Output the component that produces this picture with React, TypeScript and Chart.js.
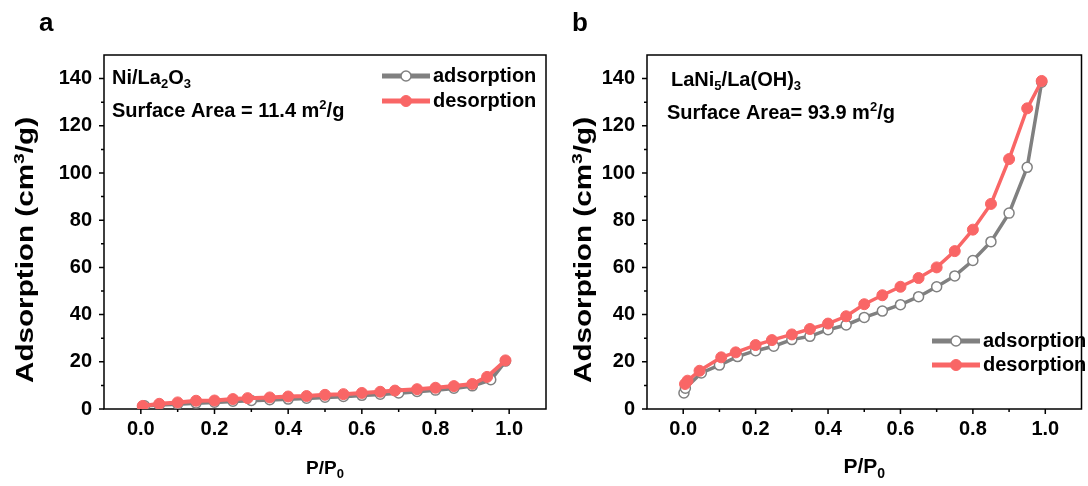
import React, { useEffect, useRef } from 'react';
import { Chart, registerables } from 'chart.js';
Chart.register(...registerables);

// ---------- data ----------
const xTickValues = [0, 0.2, 0.4, 0.6, 0.8, 1.0];
const xMinorTicks = [0.1, 0.3, 0.5, 0.7, 0.9];
const yTickValues = [0, 20, 40, 60, 80, 100, 120, 140];
const yMinorTicks = [10, 30, 50, 70, 90, 110, 130];

// panel a: Ni/La2O3
const aAdsX = [0.005, 0.01, 0.05, 0.10, 0.15, 0.20, 0.25, 0.30, 0.35, 0.40, 0.45, 0.50, 0.55, 0.60, 0.65, 0.70, 0.75, 0.80, 0.85, 0.90, 0.95, 0.99];
const aAdsY = [0.6, 1.4, 1.8, 2.1, 2.5, 2.9, 3.3, 3.6, 3.9, 4.2, 4.6, 5.0, 5.3, 5.8, 6.3, 6.8, 7.4, 8.0, 8.8, 9.8, 12.4, 20.3];
const aDesX = [0.005, 0.05, 0.10, 0.15, 0.20, 0.25, 0.29, 0.35, 0.40, 0.45, 0.50, 0.55, 0.60, 0.65, 0.69, 0.75, 0.80, 0.85, 0.90, 0.94, 0.99];
const aDesY = [1.3, 2.2, 2.8, 3.5, 3.6, 4.2, 4.6, 4.9, 5.3, 5.5, 6.0, 6.3, 6.8, 7.3, 7.8, 8.4, 9.0, 9.7, 10.6, 13.6, 20.6];

// panel b: LaNi5/La(OH)3
const bAdsX = [0.002, 0.006, 0.05, 0.10, 0.15, 0.20, 0.25, 0.30, 0.35, 0.40, 0.45, 0.50, 0.55, 0.60, 0.65, 0.70, 0.75, 0.80, 0.85, 0.90, 0.95, 0.99];
const bAdsY = [6.8, 8.8, 15.3, 18.6, 22.2, 24.7, 26.6, 29.4, 30.8, 33.6, 35.6, 38.8, 41.5, 44.2, 47.6, 51.8, 56.4, 62.9, 70.9, 83.0, 102.4, 138.5];
const bDesX = [0.005, 0.012, 0.045, 0.105, 0.145, 0.20, 0.245, 0.30, 0.35, 0.40, 0.45, 0.50, 0.55, 0.60, 0.65, 0.70, 0.75, 0.80, 0.85, 0.90, 0.95, 0.99];
const bDesY = [10.6, 12.0, 16.2, 21.9, 24.0, 27.1, 29.2, 31.6, 33.9, 36.2, 39.3, 44.4, 48.2, 51.8, 55.5, 60.0, 66.9, 76.0, 86.9, 105.9, 127.4, 139.0];

const seriesNames = ['adsorption', 'desorption'];

// ---------- styles ----------
const FONT = '"Liberation Sans", Arial, sans-serif';
const GRAY = '#808080';
const RED = '#F96666';

type Seg = { t: string; s?: 'sub' | 'sup' };

function segFont(size: number, s?: string) {
  const fs = s ? Math.round(size * 0.66) : size;
  return `bold ${fs}px ${FONT}`;
}
function richWidth(ctx: CanvasRenderingContext2D, segs: Seg[], size: number) {
  let w = 0;
  for (const g of segs) {
    ctx.font = segFont(size, g.s);
    w += ctx.measureText(g.t).width;
  }
  return w;
}
function drawRich(ctx: CanvasRenderingContext2D, segs: Seg[], x: number, y: number, size: number, align: 'left' | 'center' = 'left') {
  const w = richWidth(ctx, segs, size);
  let cx = align === 'center' ? x - w / 2 : x;
  ctx.textAlign = 'left';
  ctx.textBaseline = 'alphabetic';
  ctx.fillStyle = '#000';
  for (const g of segs) {
    ctx.font = segFont(size, g.s);
    const dy = g.s === 'sub' ? size * 0.22 : g.s === 'sup' ? -size * 0.4 : 0;
    ctx.fillText(g.t, cx, y + dy);
    cx += ctx.measureText(g.t).width;
  }
}

type PanelCfg = {
  canvasLeft: number;
  width: number;
  yAxisWidth: number;
  padRight: number;
  letter: string;
  letterX: number;
  adsX: number[]; adsY: number[]; desX: number[]; desY: number[];
  label1: Seg[]; label1X: number; label1Y: number;
  label2: Seg[]; label2X: number; label2Y: number;
  legendX: number; legendY: number; legendGap: number;
  yTitleX: number; xTitleSize: number; xTitleY: number;
  lineW: number;
};

const panels: PanelCfg[] = [
  {
    canvasLeft: 0, width: 555, yAxisWidth: 104, padRight: 9, letter: 'a', letterX: 39,
    adsX: aAdsX, adsY: aAdsY, desX: aDesX, desY: aDesY,
    label1: [{ t: 'Ni/La' }, { t: '2', s: 'sub' }, { t: 'O' }, { t: '3', s: 'sub' }], label1X: 112, label1Y: 84,
    label2: [{ t: 'Surface Area = 11.4 m' }, { t: '2', s: 'sup' }, { t: '/g' }], label2X: 112, label2Y: 117,
    legendX: 382, legendY: 76, legendGap: 25,
    yTitleX: 25, xTitleSize: 19, xTitleY: 474,
    lineW: 4,
  },
  {
    canvasLeft: 555, width: 533, yAxisWidth: 92, padRight: 1, letter: 'b', letterX: 17,
    adsX: bAdsX, adsY: bAdsY, desX: bDesX, desY: bDesY,
    label1: [{ t: 'LaNi' }, { t: '5', s: 'sub' }, { t: '/La(OH)' }, { t: '3', s: 'sub' }], label1X: 116, label1Y: 86,
    label2: [{ t: 'Surface Area= 93.9 m' }, { t: '2', s: 'sup' }, { t: '/g' }], label2X: 112, label2Y: 119,
    legendX: 377, legendY: 341, legendGap: 24,
    yTitleX: 28, xTitleSize: 21, xTitleY: 473,
    lineW: 3.5,
  },
];

function makePlugin(p: PanelCfg) {
  return {
    id: 'decor' + p.letter,
    beforeDatasetsDraw(chart: any) {
      const { ctx, chartArea: a, scales } = chart;
      const xs = scales.x, ys = scales.y;
      ctx.save();
      ctx.strokeStyle = '#000';
      ctx.lineWidth = 1.5;
      ctx.strokeRect(a.left, a.top, a.right - a.left, a.bottom - a.top);
      ctx.beginPath();
      for (const v of xTickValues) { const px = xs.getPixelForValue(v); ctx.moveTo(px, a.bottom); ctx.lineTo(px, a.bottom + 5); }
      for (const v of xMinorTicks) { const px = xs.getPixelForValue(v); ctx.moveTo(px, a.bottom); ctx.lineTo(px, a.bottom + 3); }
      for (const v of yTickValues) { const py = ys.getPixelForValue(v); ctx.moveTo(a.left, py); ctx.lineTo(a.left - 5, py); }
      for (const v of yMinorTicks) { const py = ys.getPixelForValue(v); ctx.moveTo(a.left, py); ctx.lineTo(a.left - 3, py); }
      ctx.stroke();
      ctx.restore();
    },
    afterDraw(chart: any) {
      const { ctx, chartArea: a } = chart;
      ctx.save();
      // panel letter
      ctx.fillStyle = '#000';
      ctx.font = `bold 26px ${FONT}`;
      ctx.textBaseline = 'alphabetic';
      ctx.textAlign = 'left';
      ctx.fillText(p.letter, p.letterX, 31);
      // annotations
      drawRich(ctx, p.label1, p.label1X, p.label1Y, 20);
      drawRich(ctx, p.label2, p.label2X, p.label2Y, 20);
      // axis titles
      const cx = (a.left + a.right) / 2;
      drawRich(ctx, [{ t: 'P/P' }, { t: '0', s: 'sub' }], cx, p.xTitleY, p.xTitleSize, 'center');
      const ySegs: Seg[] = [{ t: 'Adsorption (cm' }, { t: '3', s: 'sup' }, { t: '/g)' }];
      const ySize = 23;
      const yw = richWidth(ctx, ySegs, ySize);
      const stretch = 266 / yw;
      ctx.save();
      ctx.translate(p.yTitleX, (a.top + a.bottom) / 2 + 18);
      ctx.rotate(-Math.PI / 2);
      ctx.scale(stretch, 1);
      drawRich(ctx, ySegs, 0, 8, ySize, 'center');
      ctx.restore();
      // legend
      const ds = chart.data.datasets;
      const order = [1, 0]; // adsorption, desorption in legend
      order.forEach((di, i) => {
        const d = ds[di];
        const y = p.legendY + i * p.legendGap;
        const x1 = p.legendX, x2 = p.legendX + 48, mx = (x1 + x2) / 2;
        ctx.strokeStyle = d.borderColor;
        ctx.lineWidth = 5;
        ctx.beginPath(); ctx.moveTo(x1, y); ctx.lineTo(x2, y); ctx.stroke();
        ctx.beginPath(); ctx.arc(mx, y, d.pointRadius, 0, Math.PI * 2);
        ctx.fillStyle = d.pointBackgroundColor; ctx.fill();
        ctx.lineWidth = d.pointBorderWidth; ctx.strokeStyle = d.pointBorderColor; ctx.stroke();
        ctx.fillStyle = '#000';
        ctx.font = `bold 20px ${FONT}`;
        ctx.textBaseline = 'middle';
        ctx.textAlign = 'left';
        ctx.fillText(d.label, x2 + 3, y);
      });
      ctx.restore();
    },
  };
}

function Panel({ p }: { p: PanelCfg }) {
  const ref = useRef<HTMLCanvasElement>(null);
  useEffect(() => {
    const chart = new Chart(ref.current!, {
      type: 'line',
      data: {
        datasets: [
          {
            label: seriesNames[1],
            data: p.desX.map((x, i) => ({ x, y: p.desY[i] })),
            borderColor: RED, borderWidth: p.lineW,
            pointRadius: 5.5, pointBackgroundColor: RED, pointBorderColor: RED, pointBorderWidth: 1,
            order: 0,
          },
          {
            label: seriesNames[0],
            data: p.adsX.map((x, i) => ({ x, y: p.adsY[i] })),
            borderColor: GRAY, borderWidth: p.lineW,
            pointRadius: 5, pointBackgroundColor: '#ffffff', pointBorderColor: GRAY, pointBorderWidth: 1.5,
            order: 1,
          },
        ],
      },
      options: {
        responsive: false,
        animation: false,
        devicePixelRatio: 1,
        layout: { padding: { top: 55, right: p.padRight, left: 0, bottom: 0 } },
        plugins: { legend: { display: false }, tooltip: { enabled: false } },
        scales: {
          x: {
            type: 'linear', min: -0.1, max: 1.1,
            afterBuildTicks: (s: any) => { s.ticks = xTickValues.map((v) => ({ value: v })); },
            afterFit: (s: any) => { s.height = 77; },
            ticks: {
              callback: (v: any) => Number(v).toFixed(1),
              font: { family: FONT, size: 20, weight: 'bold' }, color: '#000', padding: 8,
              maxRotation: 0, autoSkip: false,
            },
            grid: { display: false, drawTicks: false },
            border: { display: false },
          },
          y: {
            type: 'linear', min: 0, max: 150,
            afterBuildTicks: (s: any) => { s.ticks = yTickValues.map((v) => ({ value: v })); },
            afterFit: (s: any) => { s.width = p.yAxisWidth; },
            ticks: {
              callback: (v: any) => String(v),
              font: { family: FONT, size: 20, weight: 'bold' }, color: '#000', padding: 12,
              autoSkip: false,
            },
            grid: { display: false, drawTicks: false },
            border: { display: false },
          },
        },
      } as any,
      plugins: [makePlugin(p)],
    });
    return () => chart.destroy();
  }, []);
  return (
    <canvas
      ref={ref}
      width={p.width}
      height={486}
      style={{ position: 'absolute', left: p.canvasLeft, top: 0, width: p.width, height: 486 }}
    />
  );
}

export default function App() {
  return (
    <div style={{ position: 'absolute', left: 0, top: 0, width: 1088, height: 486, background: '#fff', overflow: 'hidden' }}>
      {panels.map((p) => <Panel key={p.letter} p={p} />)}
    </div>
  );
}
